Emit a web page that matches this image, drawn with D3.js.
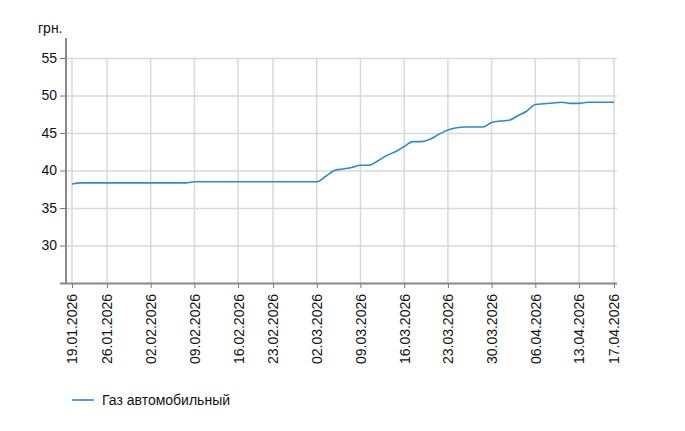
<!DOCTYPE html>
<html>
<head>
<meta charset="utf-8">
<script src="https://cdn.jsdelivr.net/npm/d3@7"></script>
<style>
  body { margin: 0; background: #fff; }
  text { font-family: "Liberation Sans", Arial, sans-serif; fill: #111; }
</style>
</head>
<body>
<div id="chart"></div>
<script>
// trading days shown on the chart (category axis)
var dates = [
  "19.01.2026", "20.01.2026", "21.01.2026", "22.01.2026",
  "26.01.2026", "27.01.2026", "28.01.2026", "29.01.2026", "30.01.2026",
  "02.02.2026", "03.02.2026", "04.02.2026", "05.02.2026", "06.02.2026",
  "09.02.2026", "10.02.2026", "11.02.2026", "12.02.2026", "13.02.2026",
  "16.02.2026", "17.02.2026", "18.02.2026", "19.02.2026",
  "23.02.2026", "24.02.2026", "25.02.2026", "26.02.2026", "27.02.2026",
  "02.03.2026", "03.03.2026", "04.03.2026", "05.03.2026", "06.03.2026",
  "09.03.2026", "10.03.2026", "11.03.2026", "12.03.2026", "13.03.2026",
  "16.03.2026", "17.03.2026", "18.03.2026", "19.03.2026", "20.03.2026",
  "23.03.2026", "24.03.2026", "25.03.2026", "26.03.2026", "27.03.2026",
  "30.03.2026", "31.03.2026", "01.04.2026", "02.04.2026", "03.04.2026",
  "06.04.2026", "07.04.2026", "08.04.2026", "09.04.2026", "10.04.2026",
  "13.04.2026", "14.04.2026", "15.04.2026", "16.04.2026", "17.04.2026"
];

// price, грн.
var gasPrice = [
  38.2, 38.35, 38.35, 38.35,
  38.35, 38.35, 38.35, 38.35, 38.35,
  38.35, 38.35, 38.35, 38.35, 38.35,
  38.5, 38.5, 38.5, 38.5, 38.5,
  38.5, 38.5, 38.5, 38.5,
  38.5, 38.5, 38.5, 38.5, 38.5,
  38.5, 39.2, 40.0, 40.2, 40.4,
  40.7, 40.7, 41.3, 42.0, 42.5,
  43.2, 43.85, 43.85, 44.2, 44.85,
  45.4, 45.7, 45.8, 45.8, 45.8,
  46.4, 46.6, 46.7, 47.3, 47.9,
  48.8, 48.9, 49.0, 49.1, 48.95,
  48.95, 49.1, 49.1, 49.1, 49.1
];

var xTicks = [
  "19.01.2026", "26.01.2026", "02.02.2026", "09.02.2026", "16.02.2026",
  "23.02.2026", "02.03.2026", "09.03.2026", "16.03.2026", "23.03.2026",
  "30.03.2026", "06.04.2026", "13.04.2026", "17.04.2026"
];
var yTicks = [30, 35, 40, 45, 50, 55];
var seriesName = "Газ автомобильный";
var unitLabel = "грн.";

var width = 685, height = 431;
var plotLeft = 66, plotRight = 617, plotTop = 58, plotBottom = 283;

var svg = d3.select("#chart").append("svg")
  .attr("width", width)
  .attr("height", height);

var x = d3.scalePoint()
  .domain(dates)
  .range([72, 614]);

var y = d3.scaleLinear()
  .domain([25, 55])
  .range([plotBottom, plotTop]);

//grid lines
svg.append("g")
  .selectAll("line")
  .data(yTicks)
  .enter()
  .append("line")
  .attr("x1", plotLeft)
  .attr("x2", plotRight)
  .attr("y1", d => y(d) + 0.5)
  .attr("y2", d => y(d) + 0.5)
  .attr("stroke", "#d9d9d9")
  .attr("stroke-width", 1.5);

svg.append("g")
  .selectAll("line")
  .data(xTicks)
  .enter()
  .append("line")
  .attr("x1", d => x(d))
  .attr("x2", d => x(d))
  .attr("y1", y(55))
  .attr("y2", plotBottom)
  .attr("stroke", "#d9d9d9")
  .attr("stroke-width", 1.5);

//y axis
var yAxis = svg.append("g")
  .attr("transform", "translate(" + plotLeft + ",0)")
  .call(d3.axisLeft(y).tickValues(yTicks).tickSize(6).tickPadding(3));
yAxis.select(".domain").remove();
yAxis.selectAll("line").attr("stroke", "#777");
yAxis.selectAll("text").style("font-size", "14px").attr("fill", "#111");
svg.append("line")
  .attr("x1", plotLeft).attr("x2", plotLeft)
  .attr("y1", plotTop - 20).attr("y2", plotBottom + 1)
  .attr("stroke", "#888")
  .attr("stroke-width", 2);

//x axis
var xAxis = svg.append("g")
  .attr("transform", "translate(0," + plotBottom + ")")
  .call(d3.axisBottom(x).tickValues(xTicks).tickSize(5));
xAxis.select(".domain").remove();
xAxis.selectAll("line").attr("stroke", "#777");
xAxis.selectAll("text")
  .style("font-size", "14px")
  .attr("fill", "#111")
  .style("text-anchor", "end")
  .attr("transform", "rotate(-90)")
  .attr("x", -11)
  .attr("y", 0)
  .attr("dy", "0.35em");
svg.append("line")
  .attr("x1", plotLeft - 6).attr("x2", plotRight)
  .attr("y1", plotBottom + 0.5).attr("y2", plotBottom + 0.5)
  .attr("stroke", "#888")
  .attr("stroke-width", 2);

svg.append("text")
  .attr("x", 38)
  .attr("y", 33)
  .style("font-size", "14px")
  .text(unitLabel);

//price line
var line = d3.line()
  .x((d, i) => x(dates[i]))
  .y(d => y(d))
  .curve(d3.curveMonotoneX);

svg.append("path")
  .datum(gasPrice)
  .attr("fill", "none")
  .attr("stroke", "#2a8cc8")
  .attr("stroke-width", 1.6)
  .attr("d", line);

//legend
var legend = svg.append("g").attr("transform", "translate(72,400)");
legend.append("line")
  .attr("x1", 0).attr("x2", 22)
  .attr("stroke", "#2a8cc8")
  .attr("stroke-width", 1.6);
legend.append("text")
  .attr("x", 30)
  .attr("dy", "0.35em")
  .style("font-size", "14px")
  .text(seriesName);
</script>
</body>
</html>
